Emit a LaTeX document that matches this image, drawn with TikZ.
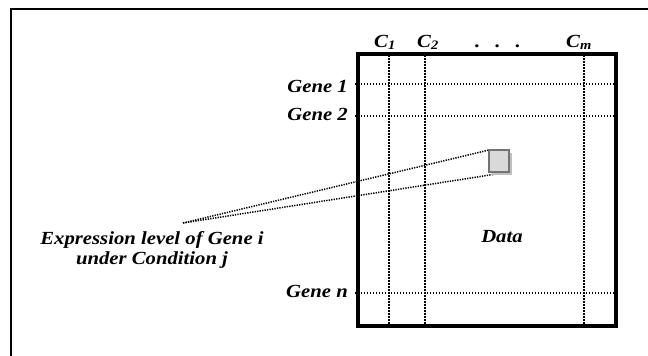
\documentclass[tikz,border=0pt]{standalone}
\usepackage{fontspec}
\setmainfont[FakeStretch=1.12]{Liberation Serif}
\usetikzlibrary{positioning, shadows}

\begin{document}
\begin{tikzpicture}[
        x=1pt, y=-1pt,
        heading/.style={
          font=\fontsize{18.5}{19.5}\selectfont\bfseries\itshape, inner sep=0pt
        },
        grid/.style={
          line width=1.5pt, dash pattern=on 1.4pt off 1.6pt
        },
        pointer/.style={
          line width=1.5pt, dash pattern=on 1.3pt off 1.2pt
        },
        cell/.style={
          draw=black!55, line width=2.5pt, fill=black!15, inner sep=0pt,
          minimum width=20pt, minimum height=22pt,
          drop shadow={shadow xshift=3pt, shadow yshift=-3pt, fill=black!25, opacity=1}
        },
      ]
        \useasboundingbox (0,0) rectangle (648,356);

        % page frame, runs off at right and bottom
        \draw [line width=2pt] (11,356) -- (11,9) -- (648,9);

        % data matrix
        \node [draw, line width=3.5pt, inner sep=0pt, minimum width=258pt, minimum height=272pt] (data) at (487,190) {};

        % conditions
        \foreach \x in {389, 425, 584}
          \draw [grid] (data.north -| \x,0) -- (data.south -| \x,0);
        \node [heading, anchor=base] (C1) at (385,47) {C\textsubscript{1}};
        \node [heading, anchor=base] (C2) at (428,47) {C\textsubscript{2}};
        \node [heading, anchor=base] (dots) at (498,47) {.\hspace{15pt}.\hspace{15pt}.};
        \node [heading, anchor=base] (Cm) at (579,47) {C\textsubscript{m}};

        % genes
        \foreach \y in {84, 116, 293}
          \draw [grid] (355,\y) -- (data.east |- 0,\y);
        \node [heading, anchor=base east] (G1) at (348,92) {Gene 1};
        \node [heading, anchor=base east] (G2) at (348,120.5) {Gene 2};
        \node [heading, anchor=base east] (Gn) at (348,297) {Gene n};

        % one entry and its meaning
        \coordinate (tip) at (183,223);
        \draw [pointer] (tip) -- (499-10,161-11);
        \draw [pointer] (tip) -- (499+10,161+11);
        \node [cell] (entry) at (499,161) {};
        \node [heading, align=center] (expr) at (152,250) {Expression level of Gene i\\under Condition j};
        \node [heading, anchor=base] (datalbl) at (502,242) {Data};

      \end{tikzpicture}
\end{document}
